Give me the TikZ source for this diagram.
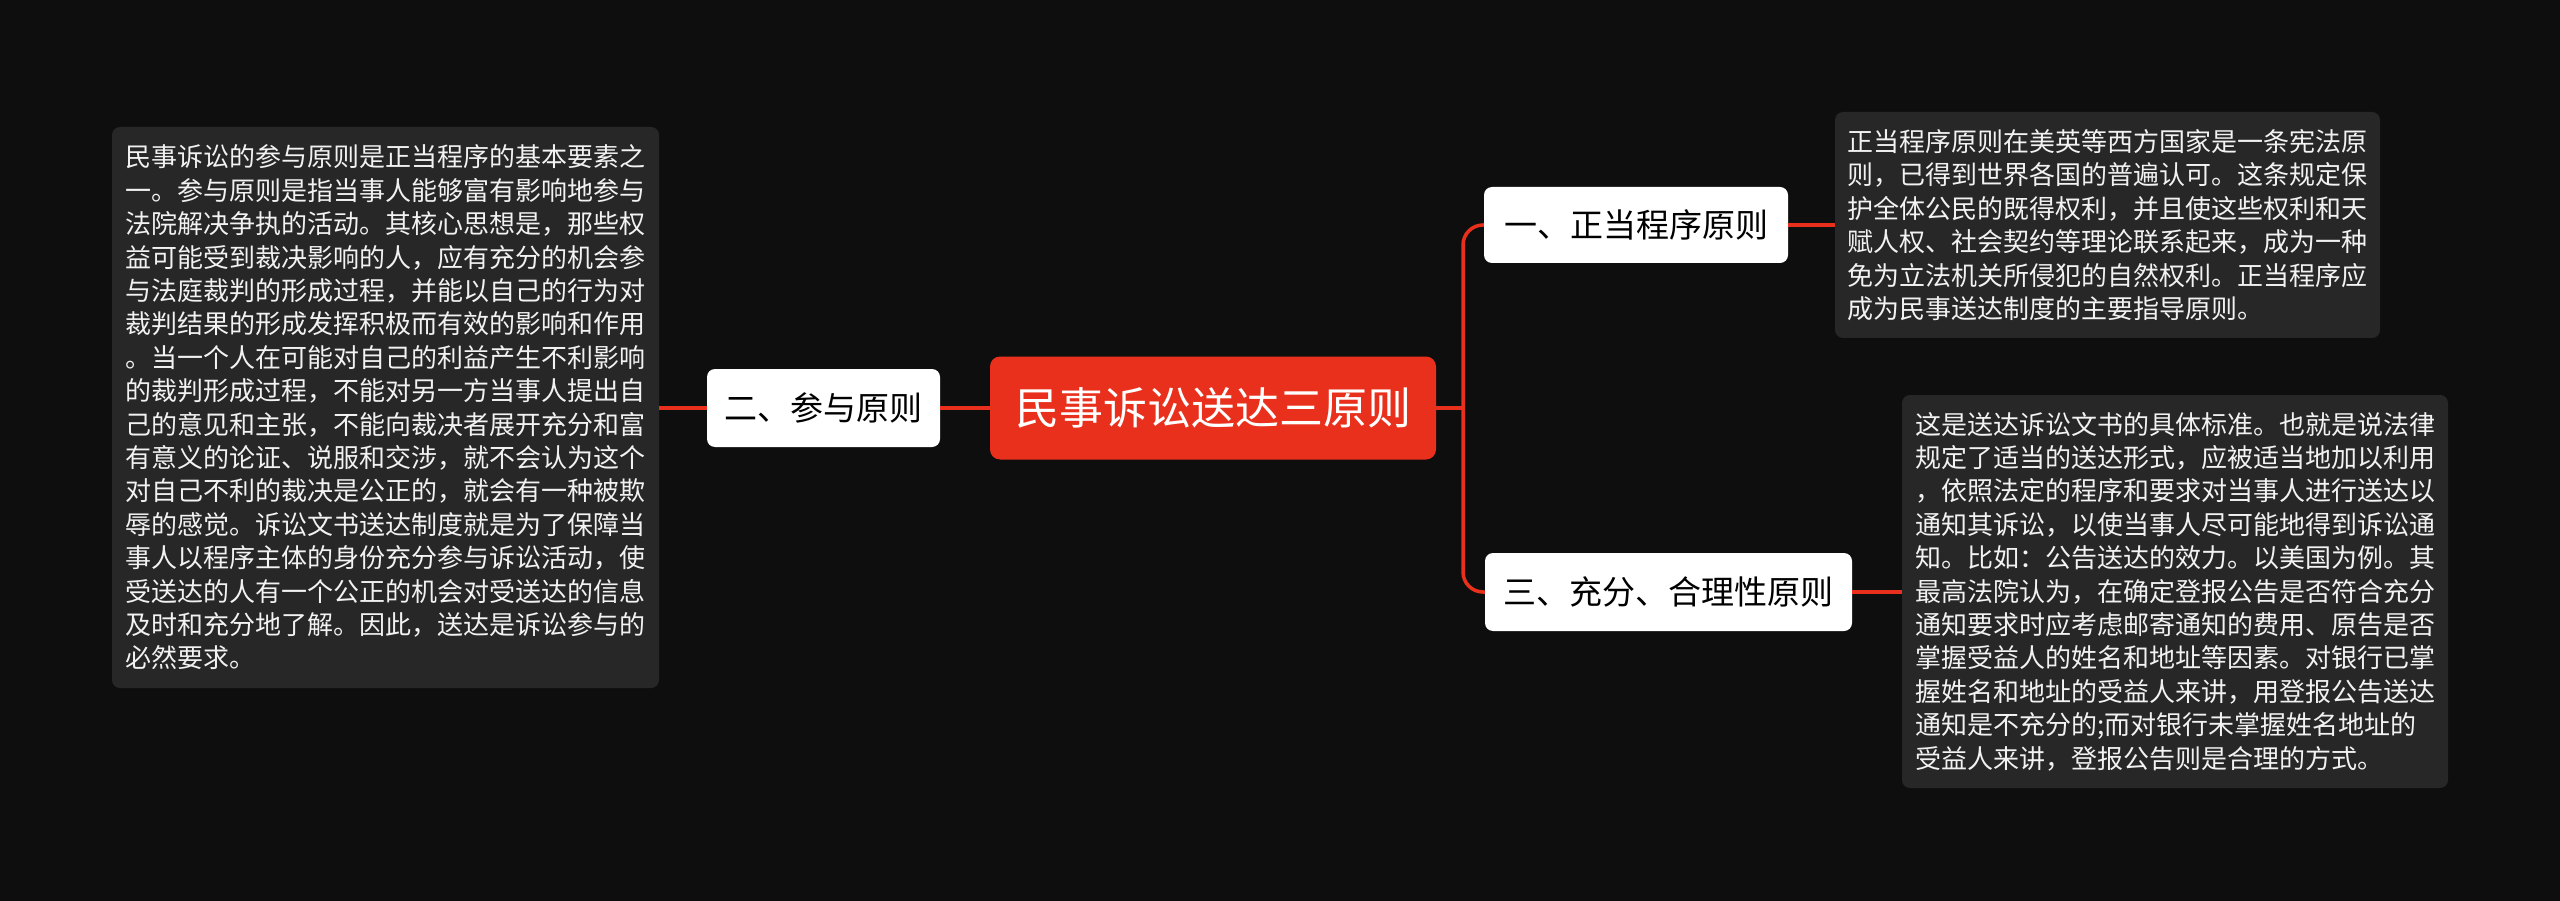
\documentclass[tikz,border=0pt]{standalone}
\usepackage{fontspec}
\newfontfamily\cjk{Noto Sans CJK SC}
\definecolor{bgc}{HTML}{0E0E0E}
\definecolor{boxc}{HTML}{272727}
\definecolor{redc}{HTML}{E9301C}
\definecolor{txtc}{HTML}{F2F2F2}
\tikzset{
  conn/.style={draw=redc, line width=3.5pt},
  rootbox/.style={fill=redc, text=white, rounded corners=10pt, inner sep=0pt,
    font=\cjk\fontsize{44}{50}\selectfont},
  labelbox/.style={fill=white, text=black, rounded corners=8pt, inner sep=0pt,
    font=\cjk\fontsize{33}{40}\selectfont},
  textbox/.style={fill=boxc, text=txtc, rounded corners=8pt, inner sep=0pt, align=left,
    font=\cjk\fontsize{26}{33.4}\selectfont}
}
\begin{document}
\begin{tikzpicture}[x=1pt,y=-1pt]
\fill[bgc] (0,0) rectangle (2560,901);
\useasboundingbox (0,0) rectangle (2560,901);

\node[rootbox, minimum width=446pt, minimum height=103pt] (root) at (1213,408) {民事诉讼送达三原则};
\node[labelbox, minimum width=233pt, minimum height=78pt] (n2) at (823.5,408) {二、参与原则};
\node[labelbox, minimum width=304pt, minimum height=76pt] (n1) at (1636,225) {一、正当程序原则};
\node[labelbox, minimum width=367pt, minimum height=78pt] (n3) at (1668.5,592) {三、充分、合理性原则};

\node[textbox, minimum width=547pt, minimum height=561pt] (lb) at (385.5,407.5) {%
民事诉讼的参与原则是正当程序的基本要素之\\
一。参与原则是指当事人能够富有影响地参与\\
法院解决争执的活动。其核心思想是，那些权\\
益可能受到裁决影响的人，应有充分的机会参\\
与法庭裁判的形成过程，并能以自己的行为对\\
裁判结果的形成发挥积极而有效的影响和作用\\
。当一个人在可能对自己的利益产生不利影响\\
的裁判形成过程，不能对另一方当事人提出自\\
己的意见和主张，不能向裁决者展开充分和富\\
有意义的论证、说服和交涉，就不会认为这个\\
对自己不利的裁决是公正的，就会有一种被欺\\
辱的感觉。诉讼文书送达制度就是为了保障当\\
事人以程序主体的身份充分参与诉讼活动，使\\
受送达的人有一个公正的机会对受送达的信息\\
及时和充分地了解。因此，送达是诉讼参与的\\
必然要求。};

\node[textbox, minimum width=545pt, minimum height=226pt] (tb) at (2107.5,225) {%
正当程序原则在美英等西方国家是一条宪法原\\
则，已得到世界各国的普遍认可。这条规定保\\
护全体公民的既得权利，并且使这些权利和天\\
赋人权、社会契约等理论联系起来，成为一种\\
免为立法机关所侵犯的自然权利。正当程序应\\
成为民事送达制度的主要指导原则。};

\node[textbox, minimum width=546pt, minimum height=393pt] (bb) at (2175,591.5) {%
这是送达诉讼文书的具体标准。也就是说法律\\
规定了适当的送达形式，应被适当地加以利用\\
，依照法定的程序和要求对当事人进行送达以\\
通知其诉讼，以使当事人尽可能地得到诉讼通\\
知。比如：公告送达的效力。以美国为例。其\\
最高法院认为，在确定登报公告是否符合充分\\
通知要求时应考虑邮寄通知的费用、原告是否\\
掌握受益人的姓名和地址等因素。对银行已掌\\
握姓名和地址的受益人来讲，用登报公告送达\\
通知是不充分的;而对银行未掌握姓名地址的\\
受益人来讲，登报公告则是合理的方式。};

\coordinate (tr) at (1463,408);
\draw[conn] (root.west) -- (n2.east);
\draw[conn] (n2.west) -- (n2.west -| lb.east);
\draw[conn] (root.east) -- (tr);
\draw[conn, rounded corners=20pt] (tr) |- (n1.west);
\draw[conn, rounded corners=20pt] (tr) |- (n3.west);
\draw[conn] (n1.east) -- (n1.east -| tb.west);
\draw[conn] (n3.east) -- (n3.east -| bb.west);
\end{tikzpicture}
\end{document}
